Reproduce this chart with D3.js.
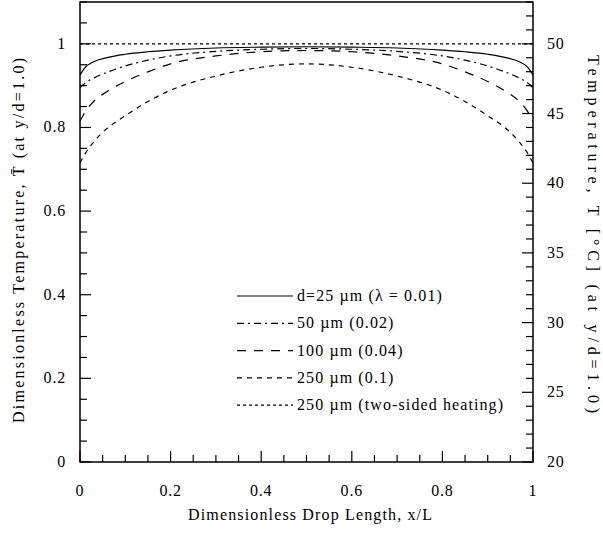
<!DOCTYPE html>
<html>
<head>
<meta charset="utf-8">
<script src="https://cdn.jsdelivr.net/npm/d3@7"></script>
<style>
  body { margin: 0; background: #fff; }
  text { font-family: "Liberation Serif", "Times New Roman", serif; fill: #000; }
</style>
</head>
<body>
<div id="chart"></div>
<script>
var width = 603;
var height = 537;

// x/L positions
var xPos = [0, 0.01, 0.03, 0.06, 0.1, 0.15, 0.2, 0.3, 0.4, 0.5, 0.6, 0.7, 0.8, 0.85, 0.9, 0.94, 0.97, 0.99, 1];
// dimensionless temperature at y/d=1.0
var d25 = [0.925, 0.942, 0.957, 0.967, 0.975, 0.981, 0.985, 0.990, 0.992, 0.993, 0.992, 0.990, 0.985, 0.981, 0.975, 0.967, 0.957, 0.942, 0.925];
var d50 = [0.895, 0.905, 0.918, 0.932, 0.947, 0.961, 0.971, 0.982, 0.987, 0.989, 0.987, 0.982, 0.971, 0.961, 0.947, 0.932, 0.918, 0.905, 0.895];
var d100 = [0.815, 0.835, 0.862, 0.886, 0.910, 0.933, 0.952, 0.971, 0.981, 0.984, 0.981, 0.971, 0.952, 0.933, 0.910, 0.886, 0.862, 0.835, 0.815];
var d250 = [0.715, 0.735, 0.765, 0.798, 0.828, 0.862, 0.889, 0.923, 0.944, 0.952, 0.944, 0.923, 0.889, 0.862, 0.828, 0.798, 0.765, 0.735, 0.715];
var twoSidedX = [0, 1];
var twoSided = [1, 1];

var legendLabels = ["d=25 \u00b5m  (\u03bb = 0.01)", "50 \u00b5m (0.02)", "100 \u00b5m (0.04)", "250 \u00b5m (0.1)", "250 \u00b5m (two-sided heating)"];
var xTicks = [0, 0.2, 0.4, 0.6, 0.8, 1];
var yTicks = [0, 0.2, 0.4, 0.6, 0.8, 1];
var rightTicks = [20, 25, 30, 35, 40, 45, 50];

var margin = {left: 80, right: 70, top: 2, bottom: 75};

var svg = d3.select("#chart").append("svg")
    .attr("width", width)
    .attr("height", height);

var x = d3.scaleLinear().domain([0, 1]).range([margin.left, width - margin.right]);
var y = d3.scaleLinear().domain([0, 1.1]).range([height - margin.bottom, margin.top]);
var yr = d3.scaleLinear().domain([20, 53]).range([height - margin.bottom, margin.top]);

var series = [
    {x: xPos, v: d25, dash: null},
    {x: xPos, v: d50, dash: "7,4,2,4"},
    {x: xPos, v: d100, dash: "9,8"},
    {x: xPos, v: d250, dash: "5,5"},
    {x: twoSidedX, v: twoSided, dash: "3,3"}
];

var line = d3.line()
    .x(d => x(d[0]))
    .y(d => y(d[1]))
    .curve(d3.curveMonotoneX);

var g = svg.append("g");

// frame
g.append("rect")
    .attr("x", x(0))
    .attr("y", y(1.1))
    .attr("width", x(1) - x(0))
    .attr("height", y(0) - y(1.1))
    .attr("fill", "none")
    .attr("stroke", "#000")
    .attr("stroke-width", 1.5);

// minor ticks
var minorX = d3.range(0, 1.0001, 0.05);
g.selectAll(".xt").data(minorX).join("line")
    .attr("x1", d => x(d)).attr("x2", d => x(d))
    .attr("y1", y(0)).attr("y2", (d, i) => y(0) - (i % 4 == 0 ? 11 : 7))
    .attr("stroke", "#000").attr("stroke-width", 1.2);

var minorY = d3.range(0, 1.1001, 0.05);
g.selectAll(".yt").data(minorY).join("line")
    .attr("y1", d => y(d)).attr("y2", d => y(d))
    .attr("x1", x(0)).attr("x2", (d, i) => x(0) + (i % 4 == 0 ? 11 : 7))
    .attr("stroke", "#000").attr("stroke-width", 1.2);

var minorR = d3.range(20, 53.001, 1);
g.selectAll(".rt").data(minorR).join("line")
    .attr("y1", d => yr(d)).attr("y2", d => yr(d))
    .attr("x1", x(1)).attr("x2", (d, i) => x(1) - (i % 5 == 0 ? 11 : 7))
    .attr("stroke", "#000").attr("stroke-width", 1.2);

// tick labels
g.selectAll(".xl").data(xTicks).join("text")
    .attr("x", d => x(d))
    .attr("y", y(0) + 34)
    .attr("text-anchor", "middle")
    .attr("font-size", 16)
    .attr("letter-spacing", 0.8)
    .text(d => d);

g.selectAll(".yl").data(yTicks).join("text")
    .attr("x", x(0) - 14)
    .attr("y", d => y(d) + 5)
    .attr("text-anchor", "end")
    .attr("font-size", 16)
    .attr("letter-spacing", 0.8)
    .text(d => d);

g.selectAll(".rl").data(rightTicks).join("text")
    .attr("x", x(1) + 14)
    .attr("y", d => yr(d) + 5)
    .attr("text-anchor", "start")
    .attr("font-size", 16)
    .attr("letter-spacing", 0.8)
    .text(d => d);

// axis titles
svg.append("text")
    .attr("x", 188)
    .attr("y", 520)
    .attr("font-size", 16)
    .attr("textLength", 244)
    .attr("lengthAdjust", "spacing")
    .text("Dimensionless Drop Length, x/L");

svg.append("text")
    .attr("transform", "translate(24,423) rotate(-90)")
    .attr("font-size", 16)
    .attr("textLength", 365)
    .attr("lengthAdjust", "spacing")
    .text("Dimensionless Temperature, T\u0304 (at y/d=1.0)");

svg.append("text")
    .attr("transform", "translate(588,55) rotate(90)")
    .attr("font-size", 16)
    .attr("textLength", 358)
    .attr("lengthAdjust", "spacing")
    .text("Temperature, T [\u00b0C] (at y/d=1.0)");

// curves
g.selectAll(".curve").data(series).join("path")
    .attr("d", s => line(s.x.map((xv, i) => [xv, s.v[i]])))
    .attr("fill", "none")
    .attr("stroke", "#000")
    .attr("stroke-width", 1.2)
    .attr("stroke-dasharray", s => s.dash);

// legend
var lg = svg.append("g").attr("transform", "translate(237,296)");
var row = lg.selectAll("g").data(series).join("g")
    .attr("transform", (d, i) => "translate(0," + i * 27.3 + ")");
row.append("line")
    .attr("x1", 0).attr("x2", 56)
    .attr("y1", 0).attr("y2", 0)
    .attr("stroke", "#000")
    .attr("stroke-width", 1.2)
    .attr("stroke-dasharray", d => d.dash);
row.append("text")
    .attr("x", 60)
    .attr("y", 5)
    .attr("font-size", 16)
    .attr("letter-spacing", 1.1)
    .text((d, i) => legendLabels[i]);
</script>
</body>
</html>
